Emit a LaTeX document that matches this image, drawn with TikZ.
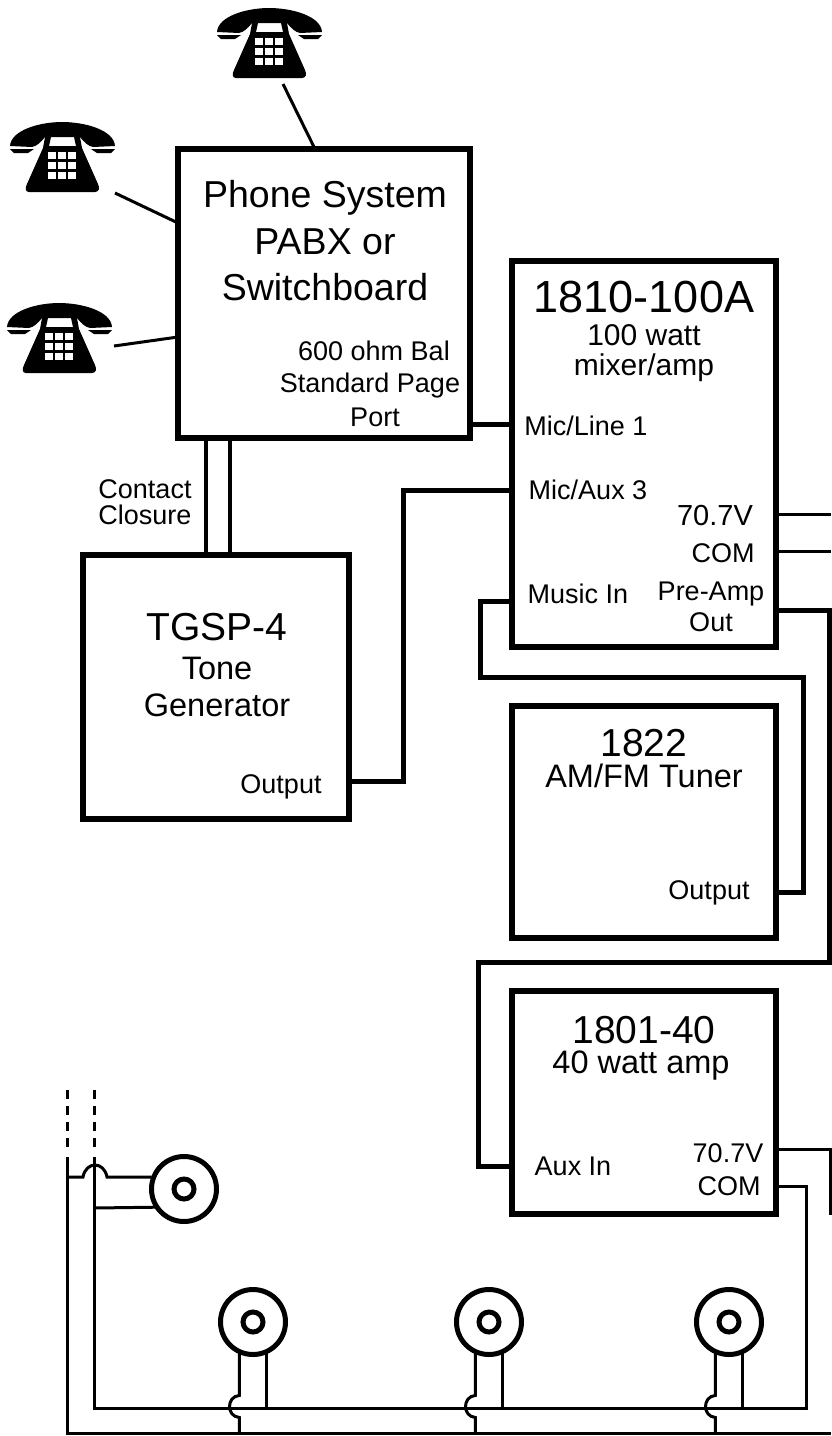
\documentclass[tikz,border=0pt]{standalone}
\usepackage{fontspec}
\setmainfont{Liberation Sans}
\tikzset{
  unit/.style={rectangle, draw=black, line width=6pt, inner sep=0pt, outer sep=0pt},
  lab/.style={inner sep=0pt, font=\fontsize{27}{27}\selectfont},
  midlab/.style={inner sep=0pt, font=\fontsize{32.5}{32.5}\selectfont},
  biglab/.style={inner sep=0pt, font=\fontsize{39}{39}\selectfont},
  feed/.style={line width=5pt, line join=miter},
  pair/.style={line width=4pt},
  line/.style={line width=3pt},
  drop/.style={line width=3pt},
  spk/.style={circle, draw=black, fill=white, line width=5pt, inner sep=0pt, outer sep=0pt, minimum size=65pt},
  spkcore/.style={circle, draw=black, line width=5pt, inner sep=0pt, minimum size=20pt},
  phone/.pic={
    \fill (0,24) .. controls (1,8) and (30,0) .. (52,0) .. controls (75,0) and (104,8) .. (105,24)
      -- (83,25) .. controls (78,24) and (74,20) .. (70,15) -- (35,15)
      .. controls (31,20) and (27,24) .. (22,25) -- cycle;
    \fill (0,27) -- (24,27) -- (18,31) -- (4,31) -- cycle (105,27) -- (81,27) -- (87,31) -- (101,31) -- cycle;
    \fill (35,15) -- (41,15) -- (39,24) -- (66,24) -- (64,15) -- (70,15) -- (72,26)
      -- (88,62) .. controls (90,66) and (89,70) .. (85,70) -- (19,70)
      .. controls (15,70) and (15,66) .. (17,62) -- (33,26) -- cycle;
    \foreach \a in {0,1,2}{\foreach \b in {0,1,2}{%
      \fill[white] (38+10*\a,30+10*\b) rectangle ++(7.5,7);}}
  },
}
\begin{document}
\begin{tikzpicture}[x=1pt, y=-1pt]
  \useasboundingbox (0,0) rectangle (831,1436);
  % equipment
  \node[unit, minimum width=292pt, minimum height=289pt] (pabx) at (324,293.5) {};
  \node[unit, minimum width=264pt, minimum height=386pt] (mixamp) at (644,454) {};
  \node[unit, minimum width=266pt, minimum height=264pt] (tone) at (216,687) {};
  \node[unit, minimum width=264pt, minimum height=232pt] (tuner) at (644,822) {};
  \node[unit, minimum width=264pt, minimum height=223pt] (amp) at (644,1102.5) {};
  % phones
  \pic at (217,8) {phone};
  \pic at (10,122) {phone};
  \pic at (7,303) {phone};
  \coordinate (pha) at (283,84);
  \coordinate (phb) at (115,193);
  \coordinate (phc) at (114,346);
  \draw[line] (pha) -- (pabx.north -| 315,0);
  \draw[line] (phb) -- (pabx.west |- 0,223);
  \draw[line] (phc) -- (pabx.west |- 0,337);
  % feeds
  \draw[feed] (pabx.east |- 0,424) -- (mixamp.west |- 0,424);
  \draw[pair] (pabx.south -| 206,0) -- (tone.north -| 206,0);
  \draw[pair] (pabx.south -| 230,0) -- (tone.north -| 230,0);
  \draw[feed] (tone.east |- 0,781) -- (403,781) -- (403,490) -- (mixamp.west |- 0,490);
  \draw[feed] (mixamp.west |- 0,601) -- (480,601) -- (480,677) -- (803,677) -- (803,892) -- (tuner.east |- 0,892);
  \draw[feed] (mixamp.east |- 0,610) -- (829,610) -- (829,962) -- (478,962) -- (478,1166) -- (amp.west |- 0,1166);
  \coordinate (outa) at (831,514);
  \coordinate (outb) at (831,551);
  \draw[line] (mixamp.east |- 0,514) -- (outa);
  \draw[line] (mixamp.east |- 0,551) -- (outb);
  % speaker lines
  \node[spk] (spka) at (184,1189) {};
  \node[spk] (spkb) at (253,1322) {};
  \node[spk] (spkc) at (489,1322) {};
  \node[spk] (spkd) at (729,1322) {};
  \foreach \s in {spka,spkb,spkc,spkd} \node[spkcore] (\s core) at (\s) {};
  \coordinate (linea) at (67,1433);
  \coordinate (lineb) at (94,1408);
  \coordinate (enda) at (831,1433);
  \coordinate (topa) at (67,1157);
  \coordinate (topb) at (94,1157);
  \coordinate (dasha) at (67,1147);
  \coordinate (dashb) at (94,1147);
  \coordinate (stuba) at (67,1090);
  \coordinate (stubb) at (94,1090);
  \coordinate (ampend) at (830,1215);
  \draw[line] (topa) -- (linea) -- (enda);
  \draw[line] (amp.east |- 0,1186) -- (806,1186) -- (806,1408) -- (lineb) -- (topb);
  \draw[line] (amp.east |- 0,1149) -- (830,1149) -- (ampend);
  \draw[line, dash pattern=on 9pt off 7pt] (dasha) -- (stuba);
  \draw[line, dash pattern=on 9pt off 7pt] (dashb) -- (stubb);
  \draw[drop] (67,1177) -- (83,1177) .. controls (86,1161) and (104,1161) .. (107,1177) -- (spka.west |- 0,1177);
  \draw[drop] (94,1208) -- (spka.-146);
  \foreach \s in {spkb,spkc,spkd}{%
    \draw[drop] (\s.-115) -- ++(0,44) .. controls +(-13,1) and +(-13,-1) .. ++(0,22) -- ++(0,15);
    \draw[drop] (\s.-65) -- ++(0,56);}
  % labels
  \node[biglab, font=\fontsize{37.5}{37.5}\selectfont] (ta) at (325,198) {Phone System};
  \node[biglab, font=\fontsize{37.5}{37.5}\selectfont] (tb) at (325,242) {PABX or};
  \node[biglab, font=\fontsize{37.5}{37.5}\selectfont] (tc) at (325,287) {Switchboard};
  \node[lab] (td) at (374,351) {600 ohm Bal};
  \node[lab] (te) at (370,386) {Standard Page};
  \node[lab] (tf) at (375,417) {Port};
  \node[lab] (tg) at (145,489) {Contact};
  \node[lab] (th) at (145,515) {Closure};
  \node[biglab, font=\fontsize{45}{45}\selectfont] (ti) at (644,297) {1810-100A};
  \node[midlab, font=\fontsize{30}{30}\selectfont] (tj) at (644,335) {100 watt};
  \node[midlab, font=\fontsize{30}{30}\selectfont] (tk) at (644,368) {mixer/amp};
  \node[lab] (tl) at (586,426) {Mic/Line 1};
  \node[lab] (tm) at (588,490) {Mic/Aux 3};
  \node[lab, font=\fontsize{29}{29}\selectfont] (tn) at (715,516) {70.7V};
  \node[lab] (to) at (723,553) {COM};
  \node[lab] (tp) at (578,594) {Music In};
  \node[lab] (tq) at (711,594) {Pre-Amp};
  \node[lab] (tr) at (711,622) {Out};
  \node[biglab] (ts) at (217,627) {TGSP-4};
  \node[midlab] (tt) at (217,668) {Tone};
  \node[midlab] (tu) at (217,705) {Generator};
  \node[lab] (tv) at (281,787) {Output};
  \node[biglab] (tw) at (644,743) {1822};
  \node[midlab] (tx) at (644,776) {AM/FM Tuner};
  \node[lab] (ty) at (709,893) {Output};
  \node[biglab] (tz) at (644,1030) {1801-40};
  \node[midlab] (ua) at (641,1066) {40 watt amp};
  \node[lab] (ub) at (573,1166) {Aux In};
  \node[lab] (uc) at (728,1153) {70.7V};
  \node[lab] (ud) at (729,1186) {COM};
\end{tikzpicture}
\end{document}
